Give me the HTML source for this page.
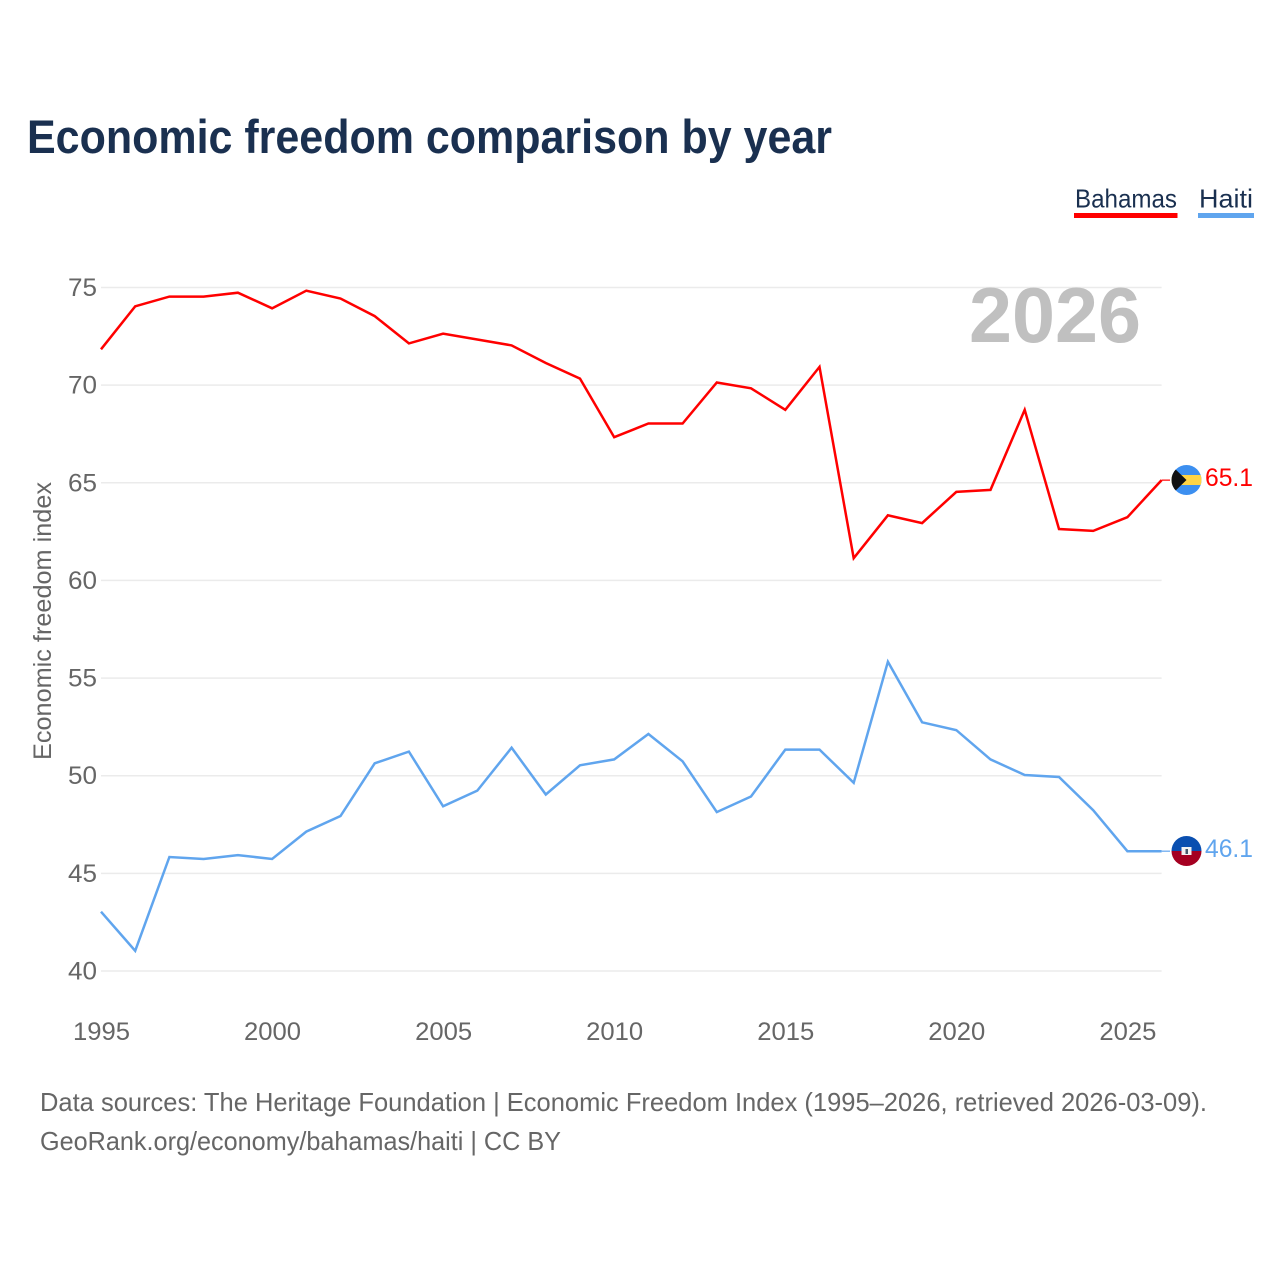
<!DOCTYPE html>
<html lang="en">
<head>
<meta charset="utf-8">
<title>Economic freedom comparison by year</title>
<style>
html,body{margin:0;padding:0;background:#fff;}
svg{display:block;font-family:"Liberation Sans",sans-serif;}
</style>
</head>
<body>
<svg id="chart" xmlns="http://www.w3.org/2000/svg" width="1280" height="1280" viewBox="0 0 1280 1280">
  <rect width="1280" height="1280" fill="#fff"/>
  <text x="27" y="153" font-size="47" font-weight="700" fill="#1a3050" textLength="805" lengthAdjust="spacingAndGlyphs">Economic freedom comparison by year</text>

  <g>
    <text x="1075" y="207.500" font-size="26" fill="#1a3050" textLength="102" lengthAdjust="spacingAndGlyphs">Bahamas</text>
    <rect x="1074" y="213" width="103.500" height="5" fill="#ff0000"/>
  </g>
  <g>
    <text x="1199" y="207.500" font-size="26" fill="#1a3050" textLength="54" lengthAdjust="spacingAndGlyphs">Haiti</text>
    <rect x="1198" y="213" width="56" height="5" fill="#60a5ee"/>
  </g>

  <g id="grid"></g>
  <g id="yticks"></g>
  <g id="xticks"></g>

  <text x="969" y="342" font-size="78" font-weight="700" fill="#c0c0c0" textLength="172" lengthAdjust="spacingAndGlyphs">2026</text>
  <text transform="translate(51,621) rotate(-90)" text-anchor="middle" font-size="25" fill="#666" textLength="278" lengthAdjust="spacingAndGlyphs">Economic freedom index</text>

  <g id="series"></g>

  <defs>
    <clipPath id="flag-clip-bs"><circle cx="1186.500" cy="480" r="15"/></clipPath>
    <clipPath id="flag-clip-ht"><circle cx="1186.500" cy="851" r="15"/></clipPath>
  </defs>
  <g clip-path="url(#flag-clip-bs)">
    <rect x="1171" y="465" width="31" height="30" fill="#3c8ff0"/>
    <rect x="1171" y="475" width="31" height="10" fill="#ffd445"/>
    <path d="M1171 465 L1186.500 480 L1171 495 Z" fill="#111"/>
  </g>
  <g clip-path="url(#flag-clip-ht)">
    <rect x="1171" y="836" width="31" height="15" fill="#0a4fb0"/>
    <rect x="1171" y="851" width="31" height="15" fill="#a50021"/>
    <rect x="1181.500" y="847" width="10" height="8" fill="#f2f2f2"/>
    <rect x="1185.500" y="849" width="2.500" height="5" fill="#44586a"/>
  </g>
  <text x="1205" y="486" font-size="25" fill="#ff0000" textLength="48" lengthAdjust="spacingAndGlyphs">65.1</text>
  <text x="1205" y="857" font-size="25" fill="#60a5ee" textLength="48" lengthAdjust="spacingAndGlyphs">46.1</text>

  <text x="40" y="1111" font-size="26" fill="#666" textLength="1167" lengthAdjust="spacingAndGlyphs">Data sources: The Heritage Foundation | Economic Freedom Index (1995–2026, retrieved 2026-03-09).</text>
  <text x="40" y="1150" font-size="26" fill="#666" textLength="521" lengthAdjust="spacingAndGlyphs">GeoRank.org/economy/bahamas/haiti | CC BY</text>
</svg>
<script>
const years = [1995,1996,1997,1998,1999,2000,2001,2002,2003,2004,2005,2006,2007,2008,2009,2010,2011,2012,2013,2014,2015,2016,2017,2018,2019,2020,2021,2022,2023,2024,2025,2026];
const bahamas = [71.8,74.0,74.5,74.5,74.7,73.9,74.8,74.4,73.5,72.1,72.6,72.3,72.0,71.1,70.3,67.3,68.0,68.0,70.1,69.8,68.7,70.9,61.1,63.3,62.9,64.5,64.6,68.7,62.6,62.5,63.2,65.1];
const haiti = [43.0,41.0,45.8,45.7,45.9,45.7,47.1,47.9,50.6,51.2,48.4,49.2,51.4,49.0,50.5,50.8,52.1,50.7,48.1,48.9,51.3,51.3,49.6,55.8,52.7,52.3,50.8,50.0,49.9,48.2,46.1,46.1];
const yTickValues = [40,45,50,55,60,65,70,75];
const xTickValues = [1995,2000,2005,2010,2015,2020,2025];

const NS = 'http://www.w3.org/2000/svg';
const SERIES_SHIFT = -0.7;
function xScale(year){ return 101 + (year - 1995) * (1161.6 - 101) / 31; }
function yScale(value){ return 971 + (value - 40) * (287.5 - 971) / 35; }
function make(tag, attrs, parent, text){
  const el = document.createElementNS(NS, tag);
  for (const k in attrs) el.setAttribute(k, attrs[k]);
  if (text !== undefined) el.textContent = text;
  parent.appendChild(el);
  return el;
}

const gridG = document.getElementById('grid');
const yG = document.getElementById('yticks');
const xG = document.getElementById('xticks');
const seriesG = document.getElementById('series');

yTickValues.forEach(function(v){
  const line = make('line', {x1:101, x2:1161.6, y1:yScale(v), y2:yScale(v), stroke:'#ebebeb', 'stroke-width':1.5}, gridG);
  
  
  const label = make('text', {x:97, y:yScale(v)+8.5, 'text-anchor':'end', 'font-size':25, fill:'#666', textLength:29, lengthAdjust:'spacingAndGlyphs'}, yG, String(v));
  
  
});

xTickValues.forEach(function(y){
  const label = make('text', {x:xScale(y)+0.5, y:1040, 'text-anchor':'middle', 'font-size':25, fill:'#666', textLength:57, lengthAdjust:'spacingAndGlyphs'}, xG, String(y));
  
  
});

function drawSeries(name, values, color){
  const pts = values.map(function(v, i){ return xScale(years[i]).toFixed(1) + ',' + (yScale(v) + SERIES_SHIFT).toFixed(1); }).join(' ');
  const line = make('polyline', {points:pts, fill:'none', stroke:color, 'stroke-width':2.5, 'stroke-linejoin':'miter'}, seriesG);
  
  
  const lastY = yScale(values[values.length - 1]) + SERIES_SHIFT;
  const conn = make('line', {x1:xScale(years[years.length - 1]), x2:1170, y1:lastY, y2:lastY, stroke:color, 'stroke-width':1.2}, seriesG);
  
  
}
drawSeries('bahamas', bahamas, '#ff0000');
drawSeries('haiti', haiti, '#60a5ee');
</script>
</body>
</html>
